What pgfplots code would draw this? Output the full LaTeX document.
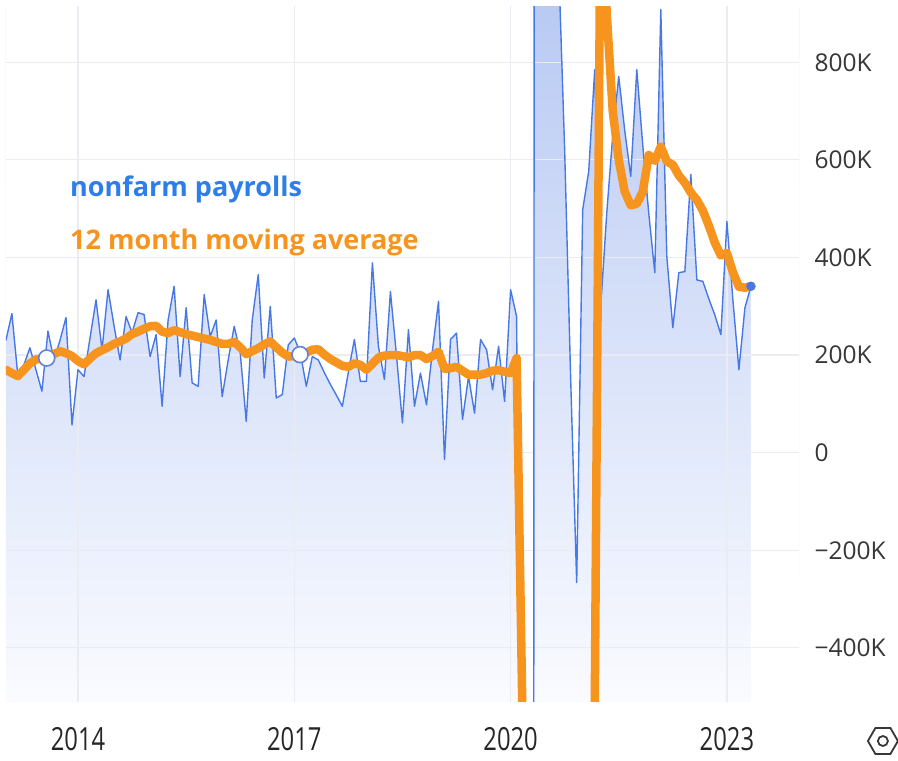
\documentclass[border=0pt]{standalone}
\usepackage{fontspec}
\setmainfont{Open Sans}
\usepackage{pgfplots}
\pgfplotsset{compat=1.18}
\usepackage{pgfplotstable}
\usetikzlibrary{shapes.geometric}
\definecolor{nfpblue}{RGB}{72,120,230}
\definecolor{txtblue}{RGB}{45,125,235}
\definecolor{maorange}{RGB}{247,148,30}
\definecolor{gridc}{RGB}{234,236,242}
\definecolor{fillTop}{RGB}{185,202,243}
\definecolor{fillBot}{RGB}{250,251,255}
\definecolor{ticktxt}{RGB}{55,55,55}
\definecolor{circblue}{RGB}{100,130,215}

\pgfplotstableread{
m nfp ma
0 230 170
1 285 163
2 156 157
3 180 170
4 215 183
5 170 191
6 126 193
7 249 196
8 190 202
9 230 208
10 277 204
11 57 198
12 170 188
13 156 181
14 235 193
15 313 204
16 211 210
17 334 216
18 260 223
19 190 228
20 279 234
21 246 243
22 287 248
23 283 254
24 197 259
25 242 260
26 95 248
27 272 245
28 341 251
29 156 247
30 297 243
31 143 240
32 136 237
33 324 234
34 238 231
35 272 227
36 115 223
37 190 223
38 259 227
39 205 216
40 64 202
41 272 208
42 365 214
43 153 222
44 300 228
45 112 216
46 119 205
47 221 197
48 235 198
49 205 200
50 136 205
51 197 211
52 190 212
53 164 201
54 140 192
55 118 185
56 95 178
57 165 176
58 232 183
59 146 180
60 146 170
61 389 182
62 218 195
63 150 199
64 330 200
65 200 200
66 61 198
67 252 195
68 95 200
69 163 200
70 98 192
71 210 198
72 310 207
73 -14 172
74 232 173
75 245 176
76 68 168
77 156 160
78 81 160
79 232 160
80 211 163
81 129 168
82 218 169
83 105 166
84 334 163
85 279 194
86 -1400 -560
87 -20500 -1650
88 2800 -1440
89 4800 -1030
90 1700 -890
91 1500 -760
92 1000 -715
93 620 -670
94 150 -660
95 -266 -700
96 498 -680
97 576 -640
98 785 -532
99 300 1200
100 490 900
101 650 700
102 771 600
103 660 535
104 566 507
105 785 510
106 630 535
107 490 610
108 369 598
109 908 627
110 402 597
111 256 590
112 369 568
113 371 553
114 570 533
115 354 518
116 351 496
117 315 465
118 282 430
119 242 404
120 474 409
121 313 370
122 170 340
123 297 338
124 341 341
}\data

\pgfplotsset{
  base/.style={
    at={(0pt,0pt)}, anchor=south west, scale only axis,
    width=793.1pt, height=695.4pt,
    xmin=2013, xmax=2024, ymin=-510, ymax=915,
    axis line style={draw=none},
    tick style={draw=none},
    major tick length=0pt,
  }
}

\begin{document}
\begin{tikzpicture}
\useasboundingbox (-5.9pt,-59.3pt) rectangle (892.1pt,701.7pt);
% layer 1: gradient area under the payroll line
\begin{axis}[
  base,
  xtick=\empty, ytick=\empty,
  axis background/.style={top color=fillTop, bottom color=fillBot},
]
\addplot[fill=white, draw=none] table[x expr={2013+\thisrow{m}/12}, y=nfp] {\data}
  -- (axis cs:2023.3333,-700) -- (axis cs:2024.5,-700) -- (axis cs:2024.5,1100) -- (axis cs:2012.5,1100) -- cycle;
\end{axis}
% layer 2: grid, labels and lines
\begin{axis}[
  base,
  grid=major,
  grid style={gridc, line width=1.2pt},
  xtick={2014,2017,2020,2023},
  xticklabels={\scalebox{0.97}[1.3]{2014},\scalebox{0.97}[1.3]{2017},\scalebox{0.97}[1.3]{2020},\scalebox{0.97}[1.3]{2023}},
  ytick={-400,-200,0,200,400,600,800},
  yticklabels={−400K,−200K,0,200K,400K,600K,800K},
  yticklabel pos=right,
  yticklabel style={anchor=west, xshift=12pt, font=\fontsize{24.5}{29}\selectfont, text=ticktxt},
  xticklabel style={anchor=center, yshift=-38pt, font=\fontsize{24.5}{29}\selectfont, text=black!85},
]
\addplot[nfpblue, line width=1.4pt, line join=round] table[x expr={2013+\thisrow{m}/12}, y=nfp] {\data};
\addplot[maorange, line width=8.5pt, line join=round, line cap=round] table[x expr={2013+\thisrow{m}/12}, y=ma] {\data};
\addplot[only marks, mark=*, mark size=8pt, mark options={fill=white, draw=circblue, line width=1.6pt}] coordinates {(2013.566,194) (2017.079,201)};
\addplot[only marks, mark=*, mark size=4.5pt, color=nfpblue] coordinates {(2023.3333,341)};
\node[anchor=base west, inner sep=0pt, text=txtblue, font=\fontsize{27}{32}\selectfont\bfseries] at (axis cs:2013.889,525) {nonfarm payrolls};
\node[anchor=base west, inner sep=0pt, text=maorange, font=\fontsize{27}{32}\selectfont\bfseries] at (axis cs:2013.889,416) {12 month moving average};
\end{axis}
\node[draw=ticktxt, line width=1.8pt, regular polygon, regular polygon sides=6, minimum size=30pt, inner sep=0pt] at (877pt,-39.3pt) {};
\draw[ticktxt, line width=1.8pt] (877pt,-39.3pt) circle (5pt);
\end{tikzpicture}
\end{document}
